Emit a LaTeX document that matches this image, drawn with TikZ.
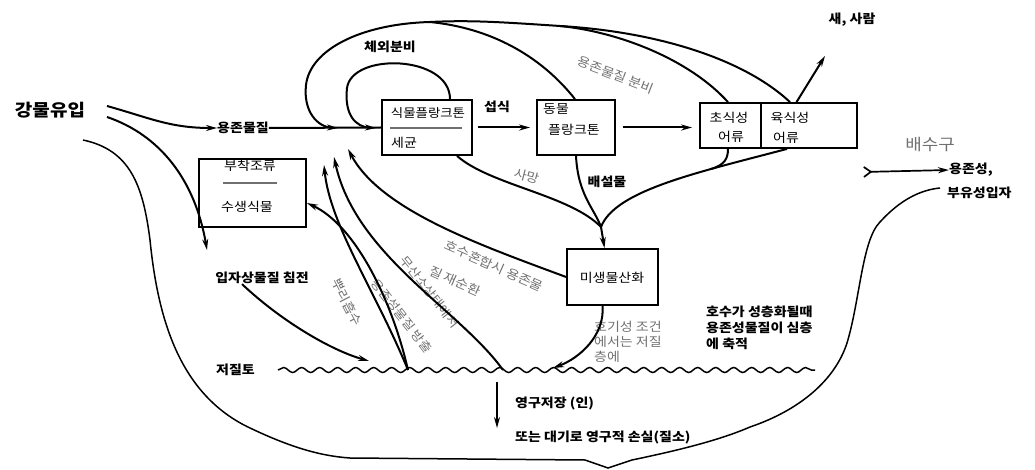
\documentclass[tikz,border=0pt]{standalone}
\usepackage{fontspec}
\setmainfont[FakeStretch=1.12]{Noto Sans CJK KR}
\usetikzlibrary{arrows.meta,decorations.pathmorphing}
\definecolor{lgray}{HTML}{707070}
\begin{document}
\begin{tikzpicture}[x=1pt,y=-1pt,
  flow/.style={line width=2pt, -{Stealth[length=11pt,width=6pt]}},
  plain/.style={line width=2pt},
  shore/.style={line width=1.5pt},
  box/.style={draw, line width=1.8pt, inner sep=0pt},
  lbl/.style={font=\fontsize{12.5}{15.5}\selectfont\bfseries, inner sep=0pt},
  glbl/.style={font=\fontsize{12.5}{15.5}\selectfont, text=lgray, inner sep=0pt},
  btxt/.style={font=\fontsize{12.5}{15}\selectfont, inner sep=0pt},
  divider/.style={lgray, line width=1.5pt},
]
\useasboundingbox (0,0) rectangle (1035,470);

% lake outline
\draw[shore] (83,140) .. controls (130,150) and (143,185) .. (150,240)
  .. controls (158,320) and (180,395) .. (250,428)
  .. controls (290,447) and (320,456) .. (350,458) -- (585,460) -- (608,468) -- (632,460)
  .. controls (680,450) and (720,440) .. (750,427)
  .. controls (800,410) and (835,380) .. (847,343)
  .. controls (860,300) and (862,240) .. (880,222)
  .. controls (900,200) and (920,190) .. (940,188);

% boxes
\node[box, minimum width=90pt, minimum height=55pt] (phyto) at (427,127.5) {};
\node[box, minimum width=78pt, minimum height=55pt] (zoo) at (576,127.5) {};
\node[box, minimum width=157pt, minimum height=45pt] (fish) at (778.5,125.5) {};
\node[box, minimum width=107pt, minimum height=68pt] (plant) at (252.5,193) {};
\node[box, minimum width=91pt, minimum height=56pt] (micro) at (612.5,277) {};

% box texts
\node[btxt, font=\fontsize{12}{14}\selectfont] (tphyto) at (428,113) {식물플랑크톤};
\draw[divider] (390,128) -- (462,128);
\node[btxt, anchor=west] (tbact) at (391,143) {세균};
\node[btxt, anchor=west] (tzoo1) at (543,109) {동물};
\node[btxt] (tzoo2) at (574,130) {플랑크톤};
\draw[line width=1.8pt] ([xshift=-17.5pt]fish.north) -- ([xshift=-17.5pt]fish.south);
\node[btxt] (therb1) at (729,118) {초식성};
\node[btxt] (therb2) at (731,137) {어류};
\node[btxt] (tcarn1) at (790,118) {육식성};
\node[btxt] (tcarn2) at (786,138) {어류};
\node[btxt] (tplant1) at (250,166) {부착조류};
\draw[divider] (223,183) -- (277,183);
\node[btxt] (tplant2) at (247,207) {수생식물};
\node[btxt] (tmicro) at (612,278) {미생물산화};

% labels
\node[font=\fontsize{17}{20}\selectfont\bfseries] (inflow) at (50,110) {강물유입};
\node[lbl] (dom) at (243,128) {용존물질};
\node[lbl] (sed) at (262,278) {입자상물질 침전};
\node[lbl, anchor=east] (soil) at (255,370) {저질토};
\node[lbl] (exo) at (390,47) {체외분비};
\node[glbl, rotate=-21] (secr) at (616,75) {용존물질 분비};
\node[lbl] (feed) at (497,107) {섭식};
\node[lbl] (people) at (852,20) {새, 사람};
\node[font=\fontsize{16}{18}\selectfont, text=lgray, inner sep=0pt] (outlet) at (930,145) {배수구};
\node[lbl, anchor=west] (diss) at (949,170) {용존성,};
\node[lbl, anchor=west] (susp) at (947,193) {부유성입자};
\node[glbl, rotate=-15] (death) at (527,176) {사망};
\node[lbl] (excr) at (607,182) {배설물};
\node[glbl, rotate=-63] (root) at (347,302) {뿌리흡수};
\node[glbl, rotate=-52, font=\fontsize{12}{14}\selectfont] (anox1) at (430,292) {무산소상태에서};
\node[glbl, rotate=-52, font=\fontsize{12}{14}\selectfont] (anox2) at (402,316) {용존성물질 방출};
\node[glbl, rotate=-24] (mix1) at (494,266) {호수혼합시 용존물};
\node[glbl, rotate=-24] (mix2) at (455,281) {질 재순환};
\node[glbl, anchor=west] (aer1) at (594,327) {호기성 조건};
\node[glbl, anchor=west] (aer2) at (594,342) {에서는 저질};
\node[glbl, anchor=west] (aer3) at (594,357) {층에};
\node[lbl, anchor=west] (strat1) at (706,312) {호수가 성층화될때};
\node[lbl, anchor=west] (strat2) at (706,328) {용존성물질이 심층};
\node[lbl, anchor=west] (strat3) at (706,344) {에 축적};
\node[lbl, anchor=west] (perm1) at (515,403) {영구저장 (인)};
\node[lbl, anchor=west] (perm2) at (515,438) {또는 대기로 영구적 손실(질소)};

% coordinates
\coordinate (in1) at (107,106);
\coordinate (in2) at (107,117);
\coordinate (sedin) at (207,250);
\coordinate (sedend) at (369,361);
\coordinate (wl) at (278,370);
\coordinate (wr) at (815,370);
\coordinate (ws1) at (408,370);
\coordinate (ws2) at (503,370);
\coordinate (ws3) at (553,368);
\coordinate (J1) at (560,26);
\coordinate (J2) at (430,22);
\coordinate (J3) at (711,169);
\coordinate (M) at (601,227);
\coordinate (loopend) at (338,128);
\coordinate (sloopend) at (376,128);
\coordinate (pp) at (825,56);
\coordinate (L2end) at (324,165);
\coordinate (L3end) at (334,157);
\coordinate (L4end) at (348,149);
\coordinate (o1) at (863,172);
\coordinate (v1) at (497,382);
\coordinate (v2) at (497,428);

% sediment surface
\draw[shore, decorate, decoration={snake, amplitude=2.5pt, segment length=18pt}] (wl) -- (wr);

% inflow
\draw[flow] (in1) .. controls (150,118) and (170,128) .. (dom.west);
\draw[plain] (dom.east) -- (phyto.west);
\draw[flow] (in2) .. controls (160,135) and (195,180) .. (sedin);
\draw[flow] ([xshift=-20pt]sed.south) .. controls (280,320) and (330,350) .. (sedend);

% loops on top
\draw[flow] ([xshift=23pt]phyto.north) .. controls (450,55) and (352,52) .. (347,88)
  .. controls (344,115) and (356,127) .. (sloopend);
\draw[flow] ([xshift=11.5pt]fish.north) .. controls (745,60) and (660,32) .. (J1)
  .. controls (500,22) and (470,20) .. (J2)
  .. controls (360,24) and (310,50) .. (306,85)
  .. controls (303,112) and (318,127) .. (loopend);
\draw[plain] ([xshift=-50.5pt]fish.north) .. controls (690,60) and (620,32) .. (J1);
\draw[plain] ([xshift=-1pt]zoo.north) .. controls (540,55) and (490,28) .. (J2);
\draw[flow] ([xshift=18pt]fish.north) -- (pp);

% food chain
\draw[flow, shorten <=5pt, shorten >=6pt] (phyto.east) -- (zoo.west);
\draw[flow, shorten <=7pt, shorten >=7pt] (zoo.east) -- (fish.west |- zoo.east);

% into microbial oxidation
\draw[plain] ([xshift=30pt]phyto.south) .. controls (490,185) and (570,195) .. (M);
\draw[plain] (zoo.south) .. controls (578,195) and (594,208) .. (M);
\draw[plain] ([xshift=8.5pt]fish.south) .. controls (700,172) and (615,190) .. (M);
\draw[plain] ([xshift=-50.5pt]fish.south) .. controls (728,158) and (725,165) .. (J3);
\draw[flow] (M) -- ([xshift=-8pt]micro.north);

% microbial oxidation outputs
\draw[flow] ([xshift=-10pt]micro.south) .. controls (605,335) and (580,358) .. (ws3);
\draw[flow] (micro.west) .. controls (480,245) and (380,210) .. (L4end);

% sediment releases
\draw[flow] (ws2) .. controls (460,310) and (355,255) .. (L3end);
\draw[flow] (ws1) .. controls (375,290) and (330,225) .. (L2end);
\draw[flow] (ws1) .. controls (392,300) and (355,225) .. ([yshift=-10pt]plant.east);

% permanent storage
\draw[flow, line width=1.6pt] (v1) -- (v2);

% outlet
\draw[line width=1.7pt, {Straight Barb[reversed,length=7pt,width=10pt]}-{Stealth[length=11pt,width=6pt]}] (o1) -- (diss.west);
\end{tikzpicture}
\end{document}
